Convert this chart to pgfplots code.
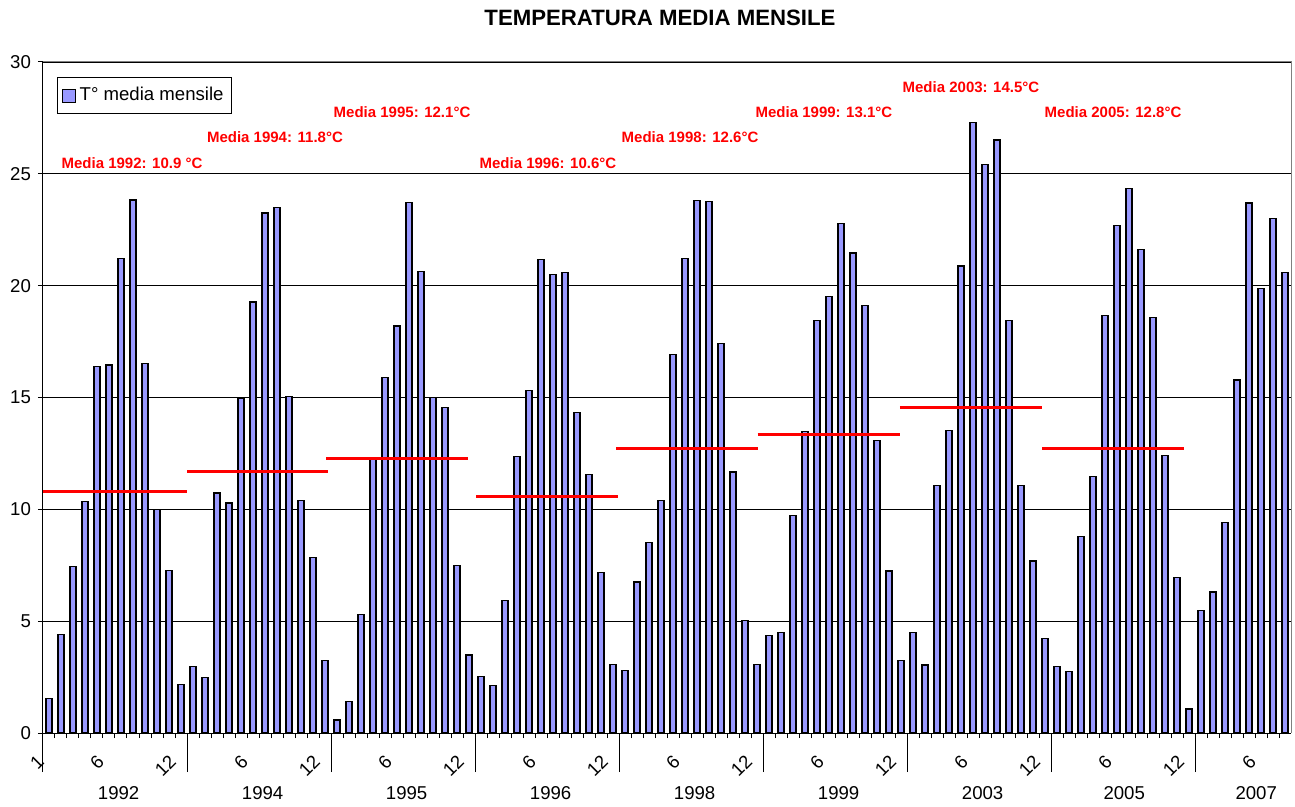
\documentclass[border=0pt]{standalone}
\usepackage{pgfplots}
\pgfplotsset{compat=1.18}
\usepackage{pgfplotstable}
\usepackage{fontspec}
\setmainfont{Liberation Sans}
\definecolor{barblue}{RGB}{153,153,255}

\pgfplotstableread{
x y
1 1.54
2 4.41
3 7.45
4 10.34
5 16.38
6 16.45
7 21.22
8 23.83
9 16.51
10 9.98
11 7.26
12 2.18
13 2.96
14 2.48
15 10.73
16 10.28
17 14.95
18 19.27
19 23.25
20 23.51
21 15.03
22 10.39
23 7.86
24 3.23
25 0.58
26 1.41
27 5.31
28 12.23
29 15.89
30 18.20
31 23.73
32 20.62
33 14.99
34 14.56
35 7.49
36 3.49
37 2.53
38 2.14
39 5.91
40 12.38
41 15.33
42 21.18
43 20.49
44 20.58
45 14.33
46 11.54
47 7.19
48 3.08
49 2.78
50 6.75
51 8.50
52 10.41
53 16.94
54 21.22
55 23.81
56 23.77
57 17.43
58 11.67
59 5.03
60 3.06
61 4.37
62 4.50
63 9.74
64 13.47
65 18.46
66 19.53
67 22.78
68 21.46
69 19.10
70 13.08
71 7.24
72 3.23
73 4.50
74 3.04
75 11.07
76 13.53
77 20.88
78 27.30
79 25.42
80 26.51
81 18.44
82 11.05
83 7.69
84 4.24
85 2.96
86 2.76
87 8.78
88 11.48
89 18.65
90 22.68
91 24.33
92 21.61
93 18.57
94 12.42
95 6.96
96 1.07
97 5.46
98 6.30
99 9.40
100 15.78
101 23.70
102 19.87
103 23.00
104 20.58
}\temps

\pgfplotstableread{
x y
0.5 10.81
12.5 10.81
12.5 nan
12.5 11.69
24.25 11.69
24.25 nan
24.1 12.27
35.9 12.27
35.9 nan
36.6 10.56
48.4 10.56
48.4 nan
48.25 12.74
60.06 12.74
60.06 nan
60.06 13.34
71.9 13.34
71.9 nan
71.9 14.54
83.75 14.54
83.75 nan
83.75 12.74
95.6 12.74
}\medie

\begin{document}
\begin{tikzpicture}
\begin{axis}[
  scale only axis, width=624pt, height=335.5pt,
  xmin=0.5, xmax=104.5, ymin=0, ymax=30,
  clip=false,
  axis lines*=left, axis line style={-, black, line width=0.5pt},
  ytick={0,5,...,30},
  ymajorgrids, grid style={black, line width=0.4pt},
  tick align=outside, major tick length=2.5pt, minor tick length=2.5pt,
  tick style={black, line width=0.5pt},
  xtick={1,6,12,18,24,30,36,42,48,54,60,66,72,78,84,90,96,102},
  xticklabels={1,6,12,6,12,6,12,6,12,6,12,6,12,6,12,6,12,6},
  major x tick style={draw=none},
  minor xtick={1.5,2.5,...,103.5},
  extra x ticks={0.5,12.5,24.5,36.5,48.5,60.5,72.5,84.5,96.5},
  extra x tick labels={},
  extra x tick style={major tick length=19.5pt, major x tick style={draw=black}},
  xticklabel style={xshift=-4pt, yshift=-10pt, rotate=45, anchor=east, inner sep=0pt, font=\fontsize{9.3}{11}\selectfont},
  yticklabel style={font=\fontsize{9.3}{11}\selectfont},
  /pgf/number format/assume math mode=true,
  legend style={at={(rel axis cs:0,1)}, anchor=north west, xshift=7pt, yshift=-7.5pt,
    draw=black, line width=0.5pt, font=\fontsize{9.3}{11}\selectfont, inner xsep=2pt, inner ysep=3pt},
  legend cell align=left,
]
\addplot[ybar, bar width=3pt, fill=barblue, draw=black, line width=0.6pt,
  legend image code/.code={\draw[fill=barblue, draw=black, line width=0.6pt] (0pt,-3.2pt) rectangle (6.5pt,3.2pt);}]
  table[x=x,y=y]{\temps};
\addlegendentry{T° media mensile}
\addplot[red, line width=1.5pt, forget plot, unbounded coords=jump] table[x=x,y=y]{\medie};

\draw[gray, line width=0.5pt] (rel axis cs:0,1) -- (rel axis cs:1,1) -- (rel axis cs:1,0);

\begin{scope}[every node/.style={text=red, font=\bfseries\fontsize{7.5}{9}\selectfont}]
\node at (axis cs:7.92,25.46) {Media 1992: 10.9 °C};
\node at (axis cs:19.83,26.62) {Media 1994: 11.8°C};
\node at (axis cs:30.42,27.75) {Media 1995: 12.1°C};
\node at (axis cs:42.58,25.46) {Media 1996: 10.6°C};
\node at (axis cs:54.42,26.62) {Media 1998: 12.6°C};
\node at (axis cs:65.58,27.75) {Media 1999: 13.1°C};
\node at (axis cs:77.83,28.86) {Media 2003: 14.5°C};
\node at (axis cs:89.67,27.75) {Media 2005: 12.8°C};
\end{scope}

\begin{scope}[every node/.style={font=\fontsize{9.3}{11}\selectfont, yshift=-30pt}]
\node at (axis cs:6.8,0) {1992};
\node at (axis cs:18.8,0) {1994};
\node at (axis cs:30.8,0) {1995};
\node at (axis cs:42.8,0) {1996};
\node at (axis cs:54.8,0) {1998};
\node at (axis cs:66.8,0) {1999};
\node at (axis cs:78.8,0) {2003};
\node at (axis cs:90.6,0) {2005};
\node at (axis cs:101.6,0) {2007};
\end{scope}

\node[font=\bfseries\fontsize{11.1}{13}\selectfont, xshift=-3.5pt, yshift=22pt] at (rel axis cs:0.5,1) {TEMPERATURA MEDIA MENSILE};

\path ([xshift=-21.5pt,yshift=-35.5pt]rel axis cs:0,0) rectangle ([xshift=2pt,yshift=31pt]rel axis cs:1,1);
\end{axis}
\end{tikzpicture}
\end{document}
